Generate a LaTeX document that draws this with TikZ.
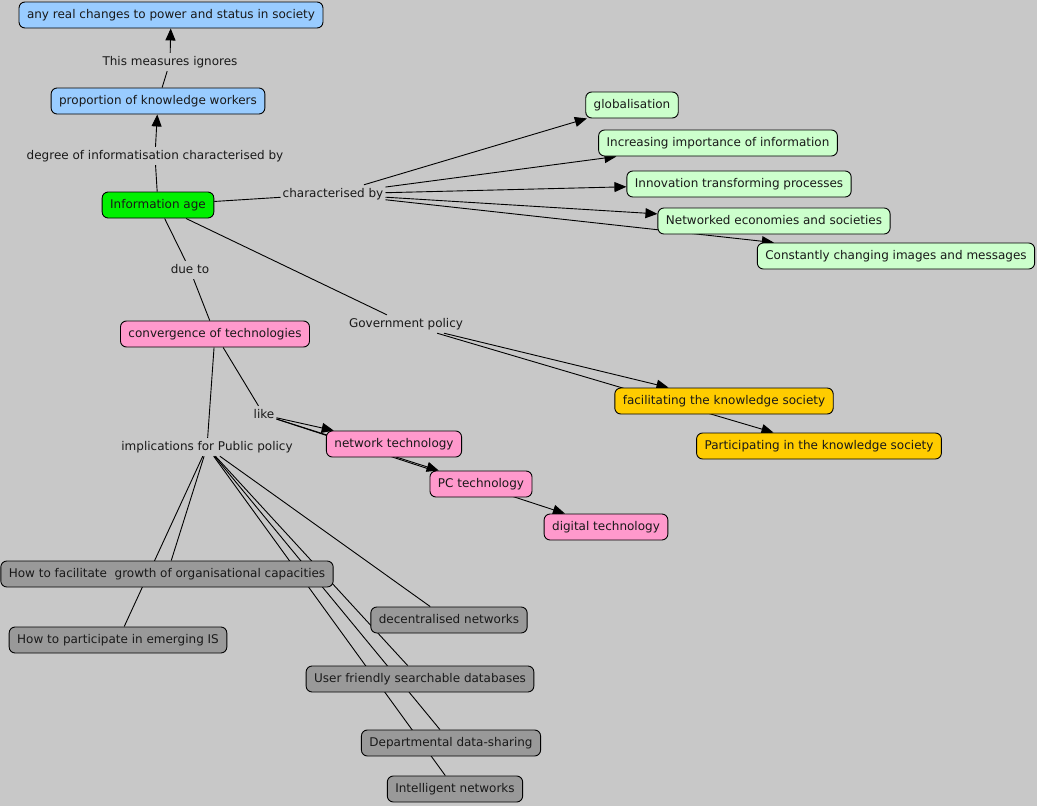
\documentclass[tikz,border=0pt]{standalone}
\usepackage{fontspec}
\setmainfont{DejaVu Sans}
\usetikzlibrary{arrows.meta}
\pgfdeclarelayer{bg}
\pgfdeclarelayer{lines}
\pgfsetlayers{bg,lines,main}
\definecolor{bgc}{RGB}{200,200,200}
\definecolor{cblue}{RGB}{153,204,255}
\definecolor{cgreen}{RGB}{0,240,0}
\definecolor{clgreen}{RGB}{204,255,204}
\definecolor{cpink}{RGB}{255,153,204}
\definecolor{corange}{RGB}{255,204,0}
\definecolor{cgray}{RGB}{153,153,153}
\definecolor{ctext}{RGB}{25,25,25}
\begin{document}
\begin{tikzpicture}[x=1pt,y=-1pt,
  font=\fontsize{12}{14}\selectfont,
  concept/.style={draw=black, line width=0.9pt, rounded corners=6pt,
    inner xsep=8pt, inner ysep=0pt, minimum height=26pt,
    text height=9pt, text depth=3pt, text=ctext},
  blue/.style={concept, fill=cblue},
  green/.style={concept, fill=cgreen},
  lgreen/.style={concept, fill=clgreen},
  pink/.style={concept, fill=cpink},
  orange/.style={concept, fill=corange},
  grey/.style={concept, fill=cgray},
  linkph/.style={inner xsep=2pt, inner ysep=3pt, text height=9pt, text depth=3pt, text=ctext},
  conn/.style={draw=black, line width=0.9pt},
  arr/.style={conn, -{Triangle[length=12pt,width=10pt]}}
]
\begin{pgfonlayer}{bg}
\fill[bgc] (0,0) rectangle (1037,806);
\end{pgfonlayer}
\useasboundingbox (0,0) rectangle (1037,806);

% concepts
\node[blue] (real) at (171,15) {any real changes to power and status in society};
\node[blue] (prop) at (158,101) {proportion of knowledge workers};
\node[green] (info) at (158,205) {Information age};
\node[lgreen] (glob) at (632,105) {globalisation};
\node[lgreen] (incr) at (718,143) {Increasing importance of information};
\node[lgreen] (innov) at (739,184) {Innovation transforming processes};
\node[lgreen] (netw) at (774,221) {Networked economies and societies};
\node[lgreen] (const) at (896,256) {Constantly changing images and messages};
\node[pink] (conv) at (215,334) {convergence of technologies};
\node[orange] (facil) at (724,401) {facilitating the knowledge society};
\node[orange] (partic) at (819,446) {Participating in the knowledge society};
\node[pink] (nett) at (394,444) {network technology};
\node[pink] (pct) at (481,484) {PC technology};
\node[pink] (digt) at (606,527) {digital technology};
\node[grey] (howfac) at (167,574) {How to facilitate\ \ growth of organisational capacities};
\node[grey] (howpart) at (118,640) {How to participate in emerging IS};
\node[grey] (decen) at (449,620) {decentralised networks};
\node[grey] (user) at (420,679) {User friendly searchable databases};
\node[grey] (dept) at (451,743) {Departmental data-sharing};
\node[grey] (intel) at (455,789) {Intelligent networks};

% linking phrases
\node[linkph] (lmeas) at (170,62) {This measures ignores};
\node[linkph] (ldeg) at (155,156) {degree of informatisation characterised by};
\node[linkph] (lchar) at (333,194) {characterised by};
\node[linkph] (ldue) at (190,270) {due to};
\node[linkph] (lgov) at (406,324) {Government policy};
\node[linkph] (llike) at (264,415) {like};
\node[linkph] (limp) at (207,447) {implications for Public policy};

\begin{pgfonlayer}{lines}
\draw[conn] (prop) -- (lmeas);
\draw[arr] (lmeas) -- (real);
\draw[conn] (info) -- (ldeg);
\draw[arr] (ldeg) -- (prop);
\draw[conn] (info) -- (lchar);
\draw[arr] (lchar) -- (glob);
\draw[arr] (lchar) -- (incr);
\draw[arr] (lchar) -- (innov);
\draw[arr] (lchar) -- (netw);
\draw[arr] (lchar) -- (const);
\draw[conn] (info) -- (ldue);
\draw[conn] (ldue) -- (conv);
\draw[conn] (info) -- (lgov);
\draw[arr] (lgov) -- (facil);
\draw[arr] (lgov) -- (partic);
\draw[conn] (conv) -- (llike);
\draw[arr] (llike) -- (nett);
\draw[arr] (llike) -- (pct);
\draw[arr] (llike) -- (digt);
\draw[conn] (conv) -- (limp);
\draw[conn] (limp) -- (howfac);
\draw[conn] (limp) -- (howpart);
\draw[conn] (limp) -- (decen);
\draw[conn] (limp) -- (user);
\draw[conn] (limp) -- (dept);
\draw[conn] (limp) -- (intel);
\end{pgfonlayer}
\end{tikzpicture}
\end{document}
